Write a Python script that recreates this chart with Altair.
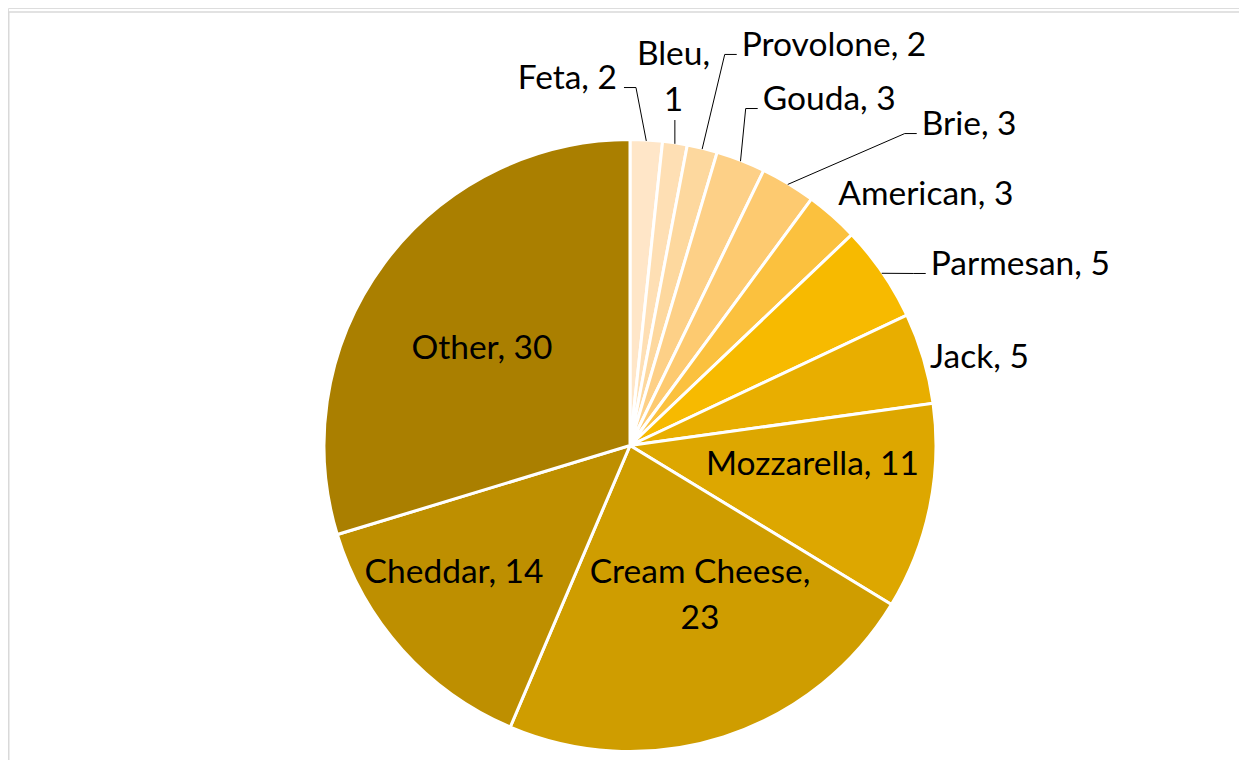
import altair as alt
import pandas as pd

# ---- data ----
names = ["Feta", "Bleu", "Provolone", "Gouda", "Brie", "American", "Parmesan",
         "Jack", "Mozzarella", "Cream Cheese", "Cheddar", "Other"]
values = [1.7, 1.3, 1.6, 2.6, 2.9, 2.8, 5.1, 4.8, 10.9, 22.7, 13.9, 29.7]
colors = ["#FFE6C8", "#FEDFB4", "#FDD89E", "#FDD087", "#FDCA70", "#FBC13E",
          "#F7BA00", "#E8AE00", "#DDA700", "#CF9D00", "#BE8F00", "#AA7F00"]
wrapped = {"Bleu", "Cream Cheese"}

# ---- layout (label offsets from the slice's rim point, leader style) ----
CX, CY, R = 622, 437.5, 305
W, H = 1231, 752
label_dx = [-29.3, -1.4, 39.6, 22.2, 134, 6.6, 49, 7.7, -116.2, -23.3, 50.9, 97]
label_dy = [-51.9, -78.8, -93.2, -51.2, -49.4, -11.7, 1.7, 9.7, -32.4, -152.9, -66.1, 95.5]
label_align = ["right", "center", "left", "left", "left", "left", "left", "left",
               "center", "center", "center", "center"]
leader = ["left", "vertical", "right", "right", "right", "none", "right", "none",
          "none", "none", "none", "none"]
FONT = "Lato"
FS = 33.5
LH = 46

labels = [(f"{n},\n{round(v)}" if n in wrapped else f"{n}, {round(v)}")
          for n, v in zip(names, values)]

df = pd.DataFrame({
    "idx": list(range(len(names))),
    "name": names,
    "value": values,
    "label": labels,
    "ldx": label_dx,
    "ldy": label_dy,
    "align": label_align,
    "leader": leader,
})

base = alt.Chart(df)


def with_geometry(ch):
    return (ch.transform_joinaggregate(total="sum(value)")
              .transform_window(cum="sum(value)", sort=[{"field": "idx"}])
              .transform_calculate(mid="(datum.cum - datum.value/2)/datum.total*2*PI")
              .transform_calculate(rimx=f"{CX} + {R}*sin(datum.mid)",
                                   rimy=f"{CY} - {R}*cos(datum.mid)")
              .transform_calculate(ax="datum.rimx + datum.ldx",
                                   ay="datum.rimy + datum.ldy"))


pie = base.mark_arc(outerRadius=R + 1, stroke="white", strokeWidth=3).encode(
    theta=alt.Theta("value:Q", stack=True),
    order=alt.Order("idx:Q"),
    color=alt.Color("name:N", scale=alt.Scale(domain=names, range=colors), legend=None),
    x=alt.value(CX),
    y=alt.value(CY),
)

text = with_geometry(base).mark_text(
    font=FONT, fontSize=FS, color="#000000", baseline="alphabetic",
    lineBreak="\n", lineHeight=LH, align=alt.expr("datum.align"),
).encode(
    x=alt.X("ax:Q", scale=None),
    y=alt.Y("ay:Q", scale=None),
    text="label:N",
)

lead = (with_geometry(base)
        .transform_filter("datum.leader != 'none'")
        .transform_calculate(
            endx="datum.leader == 'right' ? datum.ax - 5 : (datum.leader == 'left' ? datum.ax + 7 : datum.rimx)",
            endy=f"datum.leader == 'vertical' ? datum.ay + {LH} + 9 : datum.ay - 1.5")
        .transform_calculate(
            elbx="datum.leader == 'right' ? datum.endx - 12 : (datum.leader == 'left' ? datum.endx + 12 : datum.endx)",
            elby="datum.endy"))

lead1 = lead.mark_rule(color="#000000", strokeWidth=1).encode(
    x=alt.X("rimx:Q", scale=None), y=alt.Y("rimy:Q", scale=None),
    x2="elbx:Q", y2="elby:Q")
lead2 = lead.mark_rule(color="#000000", strokeWidth=1).encode(
    x=alt.X("elbx:Q", scale=None), y=alt.Y("elby:Q", scale=None),
    x2="endx:Q", y2="endy:Q")

frame_src = alt.Chart(alt.Data(values=[{}]))
frame_top = frame_src.mark_rule(color="#D9D9D9", strokeWidth=1.5).encode(
    x=alt.value(0), x2=alt.value(W), y=alt.value(4))
frame_left = frame_src.mark_rule(color="#D9D9D9", strokeWidth=1.5).encode(
    x=alt.value(0.75), y=alt.value(4), y2=alt.value(H))

chart = alt.layer(frame_top, frame_left, pie, lead1, lead2, text).properties(
    width=W, height=H, padding=0,
    autosize=alt.AutoSizeParams(type="none"),
).configure_view(stroke=None).configure(background="white")

chart.save("out.html", embed_options={"renderer": "svg", "actions": False})
